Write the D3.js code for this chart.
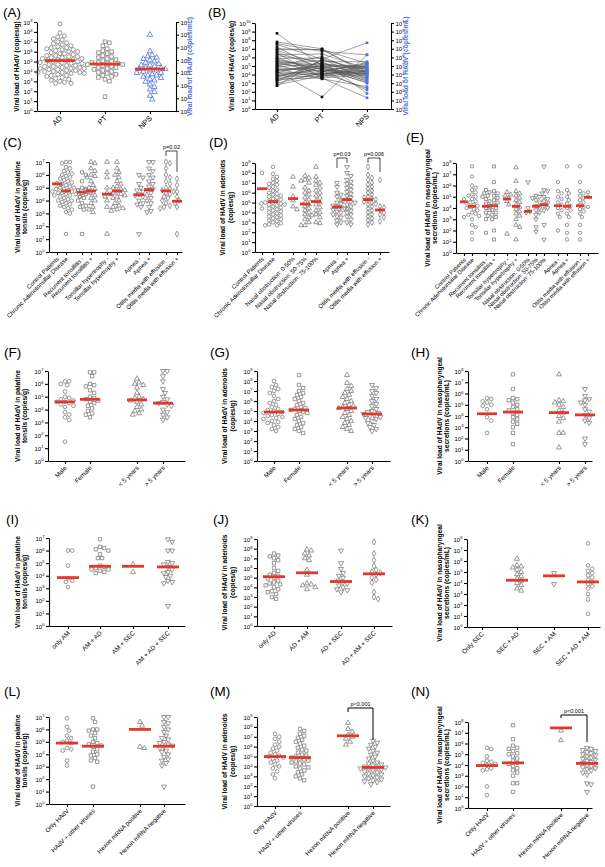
<!DOCTYPE html>
<html><head><meta charset="utf-8">
<script src="https://cdn.jsdelivr.net/npm/d3@7"></script>
<style>body{margin:0;background:#fff}</style></head><body>
<script>
// ===================== DATA (log10 of viral load) =====================
const aCats = ["AD","PT","NPS"];
const aAD = [8.8,7.9,7.6,7.5,7.3,7.2,7.0,6.9,6.8,6.7,6.6,6.5,6.4,6.3,6.2,6.1,6.0,6.0,5.9,5.8,5.7,5.6,5.6,5.5,5.5,5.4,5.3,5.3,5.2,5.2,5.1,5.1,5.0,5.0,4.9,4.9,4.8,4.8,4.7,4.6,4.6,4.5,4.5,4.4,4.4,4.3,4.3,4.2,4.2,4.1,4.1,4.0,4.0,3.9,3.9,3.8,3.8,3.7,3.6,3.5,3.4,3.3,3.2,3.1,3.0,2.9,2.8,2.8,5.8,6.2,4.7,3.9,5.4,6.4,4.3,3.6];
const aPT = [7.0,6.9,6.6,6.3,6.1,6.0,5.9,5.8,5.6,5.5,5.4,5.2,5.1,5.0,4.9,4.8,4.8,4.7,4.7,4.6,4.5,4.4,4.3,4.2,4.1,4.0,3.9,3.8,3.7,3.6,3.5,3.4,3.2,3.0,1.45,5.3,4.9,4.4];
const aNPS = [6.0,4.7,4.4,4.2,4.1,4.0,3.9,3.8,3.7,3.6,3.5,3.4,3.4,3.3,3.3,3.2,3.2,3.1,3.0,2.9,2.8,2.7,2.6,2.5,2.4,2.3,2.1,1.9,1.7,1.5,1.2,0.9,3.6,3.0,2.8,4.3];
const aMedians = [5.1,4.75,3.3];
const bCats = ["AD","PT","NPS"];
const bAD  = [8.8,7.8,7.6,7.5,7.2,7.0,6.8,6.6,6.5,6.3,6.2,6.0,5.9,5.8,5.6,5.5,5.4,5.3,5.2,5.1,5.0,4.9,4.8,4.7,4.6,4.5,4.4,4.3,4.2,4.1,4.0,3.9,3.8,3.7,3.6,3.5,3.4,3.2,3.0,2.8,2.7,6.9,5.7,4.4,3.3];
const bPT  = [5.0,7.0,6.7,5.8,4.5,6.9,5.2,4.8,3.6,6.4,5.5,4.2,5.9,4.6,3.9,5.1,4.3,5.6,4.9,3.8,6.1,5.3,4.4,3.5,4.7,5.0,1.4,4.1,5.4,4.0,4.5,3.7,4.8,5.2,4.3,3.6,4.9,5.7,4.2,3.9,5.8,6.9,4.6,5.0,4.1];
const bNPS = [4.8,4.0,6.3,7.7,2.2,5.3,4.4,3.0,1.3,4.7,5.5,4.1,4.2,3.6,5.0,3.4,5.4,1.8,4.3,4.8,3.9,4.6,5.2,2.6,4.0,3.2,6.3,4.5,3.7,5.1,4.2,4.4,3.3,4.9,5.3,4.0,3.8,4.6,2.4,4.1,3.5,4.3,3.1,5.0,4.4];
const cCats = ["Control Patients","Chronic Adenotonsillar Disease","Recurrent tonsillitis -","Recurrent tonsillitis +","Tonsillar hypertrophy -","Tonsillar hypertrophy +","Apnea -","Apnea +","Otitis media with effusion -","Otitis media with effusion +"];
const cValues = [
 [5.35,5.25],
 [7,7,6.9,6.6,6.5,6.3,6.2,6.1,6.0,5.9,5.8,5.7,5.6,5.5,5.4,5.3,5.2,5.1,5.0,5.0,4.9,4.9,4.8,4.8,4.7,4.7,4.6,4.6,4.5,4.5,4.4,4.4,4.3,4.3,4.2,4.1,4.0,4.0,3.9,3.8,3.7,3.6,3.5,3.4,3.3,3.1,3.0,1.4],
 [6.2,6.0,5.5,5.0,4.9,4.8,4.7,4.6,4.5,4.3,4.2,4.0,3.8,3.6,3.5,3.3,1.4],
 [7,6.9,6.5,6.3,6.0,5.9,5.8,5.5,5.2,5.0,4.9,4.8,4.6,4.4,4.2,4.0,3.8,3.5,3.3,3.1],
 [7,6.2,5.8,5.0,4.6,4.5,4.3,4.0,3.5,1.4],
 [7,6.5,6.2,6.0,5.8,5.5,5.3,5.1,5.0,4.9,4.8,4.7,4.6,4.5,4.4,4.3,4.2,4.0,3.8,3.6,3.5,3.4,3.3,3.2],
 [6.0,5.8,5.3,5.0,4.8,4.7,4.5,4.4,4.3,4.0,3.8,3.7,3.5,1.4],
 [7,7,6.5,6.3,6.0,5.8,5.5,5.3,5.1,4.9,4.8,4.6,4.4,4.2,4.0,3.8,3.5,3.2,3.1],
 [7,6.9,6.5,6.0,5.8,5.5,5.3,5.0,4.9,4.8,4.7,4.6,4.5,4.3,4.2,4.0,3.8,3.6,3.5,3.4],
 [5.7,5.2,4.7,4.3,4.0,3.8,3.5,1.4]
];
const cMedians = [5.3,4.75,4.65,4.75,4.5,4.75,4.45,4.85,4.75,3.95];
const dCats = ["Control Patients","Chronic Adenotonsillar Disease","Nasal obstruction: 0-50%","Nasal obstruction: 50-75%","Nasal obstruction: 75-100%","Apnea -","Apnea +","Otitis media with effusion -","Otitis media with effusion +"];
const dValues = [
 [8.0,4.4],
 [8.6,7.9,7.6,7.4,7.2,7.0,6.9,6.8,6.6,6.5,6.3,6.2,6.0,5.9,5.8,5.7,5.6,5.5,5.4,5.3,5.2,5.1,5.0,5.0,4.9,4.9,4.8,4.8,4.7,4.6,4.5,4.4,4.3,4.2,4.1,4.0,3.9,3.8,3.7,3.6,3.5,3.4,3.3,3.2,3.1,3.0,2.9,2.8,2.7,2.7],
 [7.6,6.6,5.6,5.2,4.6,4.3],
 [7.7,7.5,7.3,7.2,7.0,6.5,6.2,6.0,5.8,5.5,5.3,5.0,4.8,4.6,4.4,4.2,4.0,3.8,3.5,3.3,3.0,2.7,2.7],
 [8.6,7.6,7.2,7.0,6.8,6.5,6.2,6.0,5.7,5.5,5.2,5.0,4.8,4.5,4.2,4.0,3.8,3.7,3.5,3.0,2.9],
 [7.0,6.6,6.0,5.8,5.6,5.3,5.0,4.9,4.7,4.6,4.5,4.4,4.3,4.1,4.0,3.8,3.6,3.5,3.2,3.0,2.8],
 [8.6,8.0,7.7,7.3,7.1,6.9,6.7,6.5,6.3,6.1,5.9,5.7,5.5,5.3,5.2,5.1,5.0,4.8,4.6,4.4,4.2,4.0,3.8,3.6,3.3,3.0,2.8],
 [8.6,7.8,7.5,7.3,7.0,6.8,6.6,6.4,6.2,6.0,5.8,5.6,5.5,5.4,5.3,5.2,5.1,5.0,4.9,4.8,4.6,4.4,4.2,4.0,3.8,3.6,3.4,3.2,3.0,2.8],
 [7.3,4.6,4.5,4.2,4.0,3.8,3.5,3.1]
];
const dMedians = [6.4,5.1,5.4,4.85,5.1,4.55,5.3,5.3,4.25];
const eCats = ["Control Patients","Chronic Adenotonsillar Disease","Recurrent tonsillitis -","Recurrent tonsillitis +","Tonsillar hypertrophy -","Tonsillar hypertrophy +","Nasal obstruction: 0-50%","Nasal obstruction: 50-75%","Nasal obstruction: 75-100%","Apnea -","Apnea +","Otitis media with effusion -","Otitis media with effusion +"];
const eValues = [
 [4.8,3.2],
 [7.7,6.8,6.0,5.8,5.6,5.4,5.2,5.1,5.0,4.8,4.6,4.5,4.4,4.3,4.2,4.1,4.0,3.9,3.8,3.6,3.5,3.4,3.3,3.0,2.5,2.3,1.8,1.2],
 [5.6,5.4,5.3,5.1,5.0,4.8,4.6,4.4,4.2,4.0,3.8,3.6,3.3,3.0,1.8],
 [7.7,6.3,5.5,5.3,5.1,4.9,4.7,4.5,4.3,4.2,4.0,3.8,3.6,3.4,3.2,3.0,2.0,1.2],
 [5.4,5.2,5.1,4.9,4.6,4.3,1.7],
 [7.6,6.4,5.5,5.3,5.1,4.9,4.7,4.5,4.3,4.1,3.9,3.7,3.5,3.3,3.0,2.5,2.3,1.2],
 [6.3,4.0,3.7,3.6],
 [5.1,5.0,4.9,4.7,4.5,4.2,4.0,3.8,3.6,3.4,3.0,2.3,1.9],
 [7.7,5.6,5.5,5.3,5.0,4.8,4.6,4.4,4.2,4.0,3.8,2.5,1.2],
 [6.3,5.5,5.3,5.0,4.8,4.5,4.3,4.0,3.8,3.5,3.2,2.0],
 [7.7,5.6,5.3,5.0,4.7,4.4,4.2,4.0,3.8,3.5,3.2,2.5,1.8,1.2],
 [7.7,6.3,5.5,5.3,5.1,4.9,4.7,4.5,4.3,4.1,3.9,3.7,3.5,3.2,2.5,1.8,1.2],
 [5.4,5.0,4.1]
];
const eMedians = [4.55,4.15,4.15,4.2,4.8,4.15,3.7,4.15,4.3,4.2,4.15,4.2,4.95];
const sexAgeCats = ["Male","Female","< 5 years","> 5 years"];
const fValues = [
 [6.2,6.2,6.0,5.9,5.4,5.0,4.9,4.8,4.7,4.6,4.6,4.5,4.4,4.3,4.2,3.8,3.6,3.4,3.2,1.5],
 [6.9,6.9,6.6,6.0,5.9,5.8,5.5,5.3,5.0,4.9,4.8,4.7,4.6,4.5,4.3,4.1,3.9,3.7,3.6,3.4],
 [6.4,6.1,6.0,5.9,5.7,5.3,5.0,4.9,4.8,4.7,4.6,4.4,4.2,4.0,3.9,3.7,3.6],
 [7.0,7.0,6.6,6.2,5.6,5.3,5.0,4.8,4.6,4.5,4.4,4.3,4.0,3.8,3.6,3.4,3.2]
];
const fMedians = [4.6,4.8,4.75,4.5];
const gValues = [
 [8.0,7.6,7.4,7.2,7.0,6.8,6.5,6.2,6.0,5.8,5.6,5.4,5.2,5.1,5.0,4.9,4.8,4.7,4.6,4.5,4.4,4.3,4.2,4.0,3.9,3.8,3.6,3.4,3.2,3.0],
 [8.6,7.6,7.3,7.0,6.8,6.6,6.4,6.2,6.0,5.8,5.6,5.4,5.3,5.2,5.1,5.0,4.9,4.8,4.6,4.4,4.2,4.0,3.8,3.6,3.4,3.2,3.0,2.8],
 [8.6,7.8,7.5,7.2,7.0,6.8,6.6,6.4,6.2,6.0,5.8,5.6,5.5,5.4,5.3,5.2,5.0,4.8,4.6,4.4,4.2,4.0,3.8,3.6,3.4,3.2,3.0],
 [7.6,7.3,7.0,6.8,6.5,6.2,6.0,5.7,5.5,5.2,5.0,4.9,4.8,4.7,4.6,4.5,4.4,4.3,4.2,4.0,3.8,3.6,3.4,3.2,3.0]
];
const gMedians = [4.9,5.1,5.3,4.7];
const hValues = [
 [5.6,5.5,5.3,5.2,5.0,4.9,4.6,3.9,3.6,2.5],
 [7.7,6.4,5.6,5.5,5.4,5.2,5.0,4.8,4.6,4.5,4.3,4.1,3.9,3.7,3.5,3.3,3.0,2.5,1.5],
 [7.7,5.4,5.3,5.2,5.0,4.8,4.5,4.3,4.0,3.8,3.5,2.5,2.5,1.2],
 [6.4,5.8,5.5,5.4,5.2,5.0,4.6,4.4,4.1,3.8,3.6,3.4,2.0,1.5]
];
const hMedians = [4.2,4.35,4.3,4.1];
const iCats = ["only AM","AM + AD","AM + SEC","AM + AD + SEC"];
const iValues = [
 [6.0,6.0,4.8,3.8,3.6,3.5,3.1],
 [6.9,6.3,6.2,6.1,6.0,5.7,5.4,5.4,4.8,4.7,4.6,4.5,4.5,4.4,4.3,4.2],
 [4.9,4.3],
 [6.9,6.7,6.0,6.0,5.1,5.0,4.9,4.7,4.5,4.3,4.2,4.0,3.9,3.6,3.5,3.4,1.6]
];
const iMedians = [3.85,4.75,4.75,4.7];
const jCats = ["only AD","AD + AM","AD + SEC","AD + AM + SEC"];
const jValues = [
 [7.5,7.3,7.2,7.0,6.8,6.5,6.0,5.7,5.5,5.3,5.2,5.0,4.9,4.7,4.5,4.4,4.3,4.2,4.0,3.8,3.6,3.5,3.3,3.0,2.8],
 [7.9,7.8,7.5,7.3,7.0,6.8,5.8,5.3,4.4,4.3,4.2,4.0,3.8],
 [7.8,6.5,5.9,5.5,5.2,5.0,4.7,4.5,4.4,4.2,4.0,3.8,3.7,3.5],
 [8.7,7.5,6.8,6.2,5.8,5.6,5.5,5.3,5.0,4.8,4.5,3.5,3.0,2.8]
];
const jMedians = [5.1,5.5,4.6,5.4];
const kCats = ["Only SEC","SEC + AD","SEC + AM","SEC + AD + AM"];
const kValues = [
 [],
 [6.2,5.6,5.5,5.4,5.2,5.0,4.8,4.6,4.4,4.2,4.0,3.8,3.5,3.3],
 [4.9,3.9],
 [7.6,5.6,5.3,5.1,4.9,4.7,4.5,4.3,4.1,3.9,3.7,3.5,3.0,2.5,1.2]
];
const kMedians = [null,4.25,4.65,4.1];
const virusCats = ["Only HAdV","HAdV + other viruses","Hexon mRNA positive","Hexon mRNA negative"];
const lValues = [
 [6.9,6.2,5.9,5.5,5.3,5.1,5.0,4.9,4.5,4.4,4.3,3.5,3.1],
 [6.9,6.6,6.0,6.0,5.9,5.7,5.5,5.3,5.0,4.9,4.8,4.7,4.6,4.4,4.2,4.0,3.9,3.7,3.5,3.4,1.4],
 [6.6,6.3,4.6,4.5],
 [7,7,6.6,6.5,6.2,6.0,5.8,5.5,5.3,5.2,5.0,4.9,4.8,4.7,4.6,4.5,4.3,4.2,4.0,3.8,3.6,3.5,3.3,3.1,1.4]
];
const lMedians = [4.9,4.65,6.0,4.65];
const mValues = [
 [7.3,7.0,6.8,6.5,6.2,6.0,5.8,5.6,5.4,5.2,5.1,5.0,4.9,4.8,4.6,4.4,4.2,4.0,3.8,3.5,3.2,2.8],
 [7.8,7.6,7.3,7.1,6.9,6.7,6.5,6.3,6.1,5.9,5.7,5.6,5.4,5.2,5.1,5.0,4.9,4.8,4.7,4.6,4.5,4.4,4.3,4.2,4.0,3.9,3.8,3.6,3.4,3.2,3.0,2.8,2.6],
 [8.4,7.8,7.5,7.2,7.0,6.8,6.5,6.2],
 [6.6,6.4,6.2,6.0,5.8,5.6,5.4,5.2,5.0,4.8,4.6,4.4,4.3,4.2,4.1,4.0,3.9,3.9,3.8,3.8,3.7,3.6,3.5,3.4,3.3,3.2,3.1,3.0,2.9,2.8,2.7,2.6,2.5,2.4,2.2]
];
const mMedians = [5.0,4.9,7.1,3.9];
const nValues = [
 [5.6,5.5,4.8,4.4,4.3,4.2,4.1,4.0,3.7,3.6,3.5,2.0,1.2],
 [7.7,6.4,5.8,5.6,5.5,5.3,5.1,5.0,4.8,4.6,4.4,4.2,4.1,3.9,3.7,3.5,3.3,3.0,2.3,2.3,1.5],
 [7.2,6.3],
 [5.6,5.5,5.4,5.3,5.2,5.1,5.0,4.9,4.8,4.7,4.6,4.5,4.4,4.3,4.2,4.1,4.0,3.9,3.8,3.7,3.6,3.5,3.3,3.1,2.3,2.2,1.5]
];
const nMedians = [3.95,4.2,7.45,4.15];
const labTonsil = ["Viral load of HAdV in palatine","tonsils (copies/g)"];
const labAden = ["Viral load of HAdV in adenoids","(copies/g)"];
const labNaso = ["Viral load of HAdV in nasopharyngeal","secretions  (copies/mL)"];

// ===================== LAYOUT / STYLE =====================
const FONT = "'Liberation Sans', Arial, Helvetica, sans-serif";
const GRAY = "#7f7f7f", RED = "#e2382b", BLUE = "#4f74dc";
const svg = d3.select("body").append("svg").attr("width",605).attr("height",867)
  .style("font-family",FONT).attr("fill","#000");

function sym(shape, size){
  const t = {circle:d3.symbolCircle, square:d3.symbolSquare, triangle:d3.symbolTriangle, tdown:d3.symbolTriangle, diamond:d3.symbolDiamond}[shape];
  return d3.symbol().type(t).size(size)();
}
function swarm(vals, yS, cx, d){
  const pts = vals.map(v=>({v, y:yS(v)})).sort((a,b)=>a.y-b.y);
  const placed=[];
  pts.forEach(p=>{
    let best=null;
    for(let k=0;k<60 && best===null;k++){
      const offs = k===0?[0]:[k*d*0.5,-k*d*0.5];
      for(const o of offs){
        if(placed.every(q=>(q.x-o)*(q.x-o)+(q.y-p.y)*(q.y-p.y) >= d*d)){best=o;break;}
      }
    }
    p.x = cx+best; placed.push({x:best,y:p.y});
  });
  return pts;
}
function supText(sel, x, exp, anchor, fs, color){
  const t = sel.append("text").attr("x",x).attr("y",0).attr("dy","0.35em")
    .attr("text-anchor",anchor).attr("font-size",fs).attr("fill",color||"#000").style("font-family",FONT);
  t.append("tspan").text("10");
  t.append("tspan").attr("font-size",fs*0.68).attr("dy",-fs*0.42).text(exp);
}

function drawPanel(p){
  const g = svg.append("g");
  g.append("text").attr("x",p.lp[0]).attr("y",p.lp[1]).attr("font-size",13.5).attr("fill","#000").text(p.letter);
  const y = d3.scaleLinear().domain([0,p.maxExp]).range([p.yBot,p.yTop]);
  const x = d3.scaleLinear().domain([0,p.x1-p.x0]).range([p.x0,p.x1]);
  const ya = g.append("g").attr("transform",`translate(${p.x0},0)`)
    .call(d3.axisLeft(y).tickValues(d3.range(0,p.maxExp+1)).tickSize(3).tickSizeOuter(0).tickFormat(""));
  ya.selectAll(".tick text").remove();
  ya.selectAll(".tick").each(function(d){ supText(d3.select(this), -4.5, d, "end", p.tf||6); });
  ya.selectAll("path,line").attr("stroke","#000").attr("stroke-width",1.1);
  let y2 = y;
  if(p.right){
    y2 = d3.scaleLinear().domain([0,p.right.maxExp]).range([p.yBot,p.yTop]);
    const ra = g.append("g").attr("transform",`translate(${p.x1},0)`)
      .call(d3.axisRight(y2).tickValues(d3.range(0,p.right.maxExp+1)).tickSize(3).tickSizeOuter(0).tickFormat(""));
    ra.selectAll(".tick text").remove();
    ra.selectAll(".tick").each(function(d){ supText(d3.select(this), 4.5, d, "start", p.tf||6); });
    ra.selectAll("path,line").attr("stroke","#000").attr("stroke-width",1.1);
    g.append("text").attr("transform",`translate(${p.right.labX},${(p.yTop+p.yBot)/2}) rotate(-90)`)
      .attr("text-anchor","middle").attr("font-size",6.8).attr("font-weight","bold").attr("fill",BLUE)
      .text("Viral load of HAdV (copies/mL)");
  }
  const xa = g.append("g").attr("transform",`translate(0,${p.yBot})`)
    .call(d3.axisBottom(x).tickValues(p.pos).tickSize(3).tickSizeOuter(0).tickFormat(""));
  xa.selectAll(".tick text").remove();
  xa.selectAll("path,line").attr("stroke","#000").attr("stroke-width",1.1);
  p.cats.forEach((c,i)=>{
    g.append("text").attr("transform",`translate(${x(p.pos[i])+1},${p.yBot+6}) rotate(-45)`)
      .attr("text-anchor","end").attr("dy","0.3em").attr("font-size",p.cf||5.8).attr("fill","#000").text(c);
  });
  const cy=(p.yTop+p.yBot)/2;
  p.ylab.forEach((t,i)=>{
    g.append("text").attr("transform",`translate(${p.ylabX[i]},${cy}) rotate(-90)`)
      .attr("text-anchor","middle").attr("font-size",p.lf||6.6).attr("font-weight","bold").attr("fill","#000").text(t);
  });
  if(p.paired){
    const ys = [y,y,y2];
    const n = p.vals[0].length;
    for(let k=0;k<n;k++){
      const xy = [0,1,2].map(j=>[x(p.pos[j]), ys[j](p.vals[j][k])]);
      g.append("path").attr("d",d3.line()(xy)).attr("fill","none").attr("stroke","#555").attr("stroke-width",0.55);
    }
    [0,1,2].forEach(j=>{
      p.vals[j].forEach(v=>{
        g.append("rect").attr("x",x(p.pos[j])-1.3).attr("y",ys[j](v)-1.3).attr("width",2.6).attr("height",2.6)
          .attr("fill", j===2?BLUE:"#111");
      });
    });
    return;
  }
  p.vals.forEach((vals,i)=>{
    const ys = (p.scaleIdx && p.scaleIdx[i]===1)? y2 : y;
    const cx = x(p.pos[i]);
    const pts = swarm(vals, ys, cx, p.d||4.2);
    const col = (p.colors && p.colors[i]) || GRAY;
    const shape = p.shapes[i];
    pts.forEach(pt=>{
      g.append("path").attr("d",sym(shape,p.ss||11))
        .attr("transform",`translate(${pt.x},${pt.y})${shape==="tdown"?" rotate(180)":""}`)
        .attr("fill","none").attr("stroke",col).attr("stroke-width",0.8);
    });
    const m = p.med[i];
    if(m!=null){
      g.append("line").attr("x1",cx-p.mw/2).attr("x2",cx+p.mw/2).attr("y1",ys(m)).attr("y2",ys(m))
        .attr("stroke",RED).attr("stroke-width",2.8);
    }
  });
  (p.brackets||[]).forEach(b=>{
    const xa_ = x(p.pos[b.a]), xb = x(p.pos[b.b]);
    g.append("path").attr("d",`M${xa_},${b.la}V${b.top}H${xb}V${b.lb}`).attr("fill","none").attr("stroke","#000").attr("stroke-width",b.w||0.7);
    g.append("text").attr("x",(xa_+xb)/2).attr("y",b.top-2.5).attr("text-anchor","middle").attr("font-size",5.5).attr("fill","#000").text(b.text);
  });
}

const S4 = ["circle","square","triangle","tdown"];
const panels = [
 {letter:"(A)", lp:[3,17], x0:37, x1:176, yTop:22, yBot:111, maxExp:9, cats:aCats, vals:[aAD,aPT,aNPS], med:aMedians,
  pos:[23,68,113], shapes:["circle","square","triangle"], colors:[GRAY,GRAY,BLUE], scaleIdx:[0,0,1],
  right:{maxExp:7, labX:192}, ylab:["Viral load of HAdV (copies/g)"], ylabX:[19], cf:7.5, mw:30, d:4.4, ss:13},
 {letter:"(B)", lp:[208,17], x0:255, x1:391, yTop:23, yBot:109, maxExp:10, cats:bCats, vals:[bAD,bPT,bNPS], paired:true,
  pos:[22,67,112], right:{maxExp:10, labX:408}, ylab:["Viral load of HAdV (copies/g)"], ylabX:[234], cf:7.5},
 {letter:"(C)", lp:[3,147], x0:49, x1:182, yTop:162, yBot:252, maxExp:7, cats:cCats, vals:cValues, med:cMedians,
  pos:[8,17,33,42,58,68,90,100,117,128],
  shapes:["circle","circle","square","triangle","triangle","triangle","tdown","tdown","diamond","diamond"],
  ylab:labTonsil, ylabX:[20,27], mw:10, d:3.9, ss:10, cf:6,
  brackets:[{a:8,b:9,top:151,la:156,lb:172,text:"p=0.02"}]},
 {letter:"(D)", lp:[209,147], x0:255, x1:389, yTop:163, yBot:252, maxExp:9, cats:dCats, vals:dValues, med:dMedians,
  pos:[7,18,38,50,61,82,92,113,125],
  shapes:["circle","circle","triangle","triangle","triangle","tdown","tdown","diamond","diamond"],
  ylab:labAden, ylabX:[225,233], mw:10, d:3.9, ss:10, cf:6,
  brackets:[{a:5,b:6,top:158,la:168,lb:163,text:"p=0.03"},{a:7,b:8,top:158,la:163,lb:172,text:"p=0.006"}]},
 {letter:"(E)", lp:[406,142], x0:456, x1:598, yTop:163, yBot:253, maxExp:8, cats:eCats, vals:eValues, med:eMedians,
  pos:[8,16,30,38,51,60,72,80,88,102,111,124,132],
  shapes:["circle","circle","square","square","triangle","triangle","tdown","tdown","tdown","circle","circle","circle","circle"],
  ylab:labNaso, ylabX:[430,437], mw:8, d:3.6, ss:9, cf:5.8},
 {letter:"(F)", lp:[4,357], x0:48, x1:185, yTop:371, yBot:461, maxExp:7, cats:sexAgeCats, vals:fValues, med:fMedians,
  pos:[17,42,89,115], shapes:S4, ylab:labTonsil, ylabX:[20,27], mw:20, d:4.2, cf:6.4},
 {letter:"(G)", lp:[210,357], x0:257, x1:390, yTop:371, yBot:461, maxExp:9, cats:sexAgeCats, vals:gValues, med:gMedians,
  pos:[17,42,90,115], shapes:S4, ylab:labAden, ylabX:[227,235], mw:20, d:4.2, cf:6.4},
 {letter:"(H)", lp:[411,357], x0:468, x1:592, yTop:371, yBot:461, maxExp:8, cats:sexAgeCats, vals:hValues, med:hMedians,
  pos:[19,45,91,117], shapes:S4, ylab:labNaso, ylabX:[442,449], mw:20, d:4.2, cf:6.4},
 {letter:"(I)", lp:[6,524], x0:49, x1:185, yTop:538, yBot:626, maxExp:7, cats:iCats, vals:iValues, med:iMedians,
  pos:[19,51,84,119], shapes:S4, ylab:labTonsil, ylabX:[20,27], mw:22, d:4.2, cf:6.4},
 {letter:"(J)", lp:[213,524], x0:257, x1:392, yTop:539, yBot:626, maxExp:9, cats:jCats, vals:jValues, med:jMedians,
  pos:[17,50,84,117], shapes:["square","triangle","tdown","diamond"], ylab:labAden, ylabX:[227,235], mw:22, d:4.2, cf:6.4},
 {letter:"(K)", lp:[411,524], x0:467, x1:600, yTop:539, yBot:627, maxExp:8, cats:kCats, vals:kValues, med:kMedians,
  pos:[15,50,87,121], shapes:["circle","triangle","tdown","circle"], ylab:labNaso, ylabX:[442,449], mw:22, d:4.2, cf:6.4},
 {letter:"(L)", lp:[4,696], x0:49, x1:185, yTop:717, yBot:804, maxExp:7, cats:virusCats, vals:lValues, med:lMedians,
  pos:[18,44,91,115], shapes:S4, ylab:labTonsil, ylabX:[20,27], mw:22, d:4.2, cf:6.2},
 {letter:"(M)", lp:[210,696], x0:257, x1:390, yTop:717, yBot:806, maxExp:9, cats:virusCats, vals:mValues, med:mMedians,
  pos:[18,43,91,116], shapes:S4, ylab:labAden, ylabX:[227,235], mw:22, d:4.2, cf:6.2,
  brackets:[{a:2,b:3,top:708,la:712,lb:740,text:"p<0.001",w:1}]},
 {letter:"(N)", lp:[411,696], x0:468, x1:592, yTop:722, yBot:808, maxExp:8, cats:virusCats, vals:nValues, med:nMedians,
  pos:[19,45,93,119], shapes:S4, ylab:labNaso, ylabX:[442,449], mw:22, d:4.2, cf:6.2,
  brackets:[{a:2,b:3,top:715,la:718,lb:742,text:"p<0.001",w:1}]}
];
panels.forEach(drawPanel);
</script>
</body></html>
